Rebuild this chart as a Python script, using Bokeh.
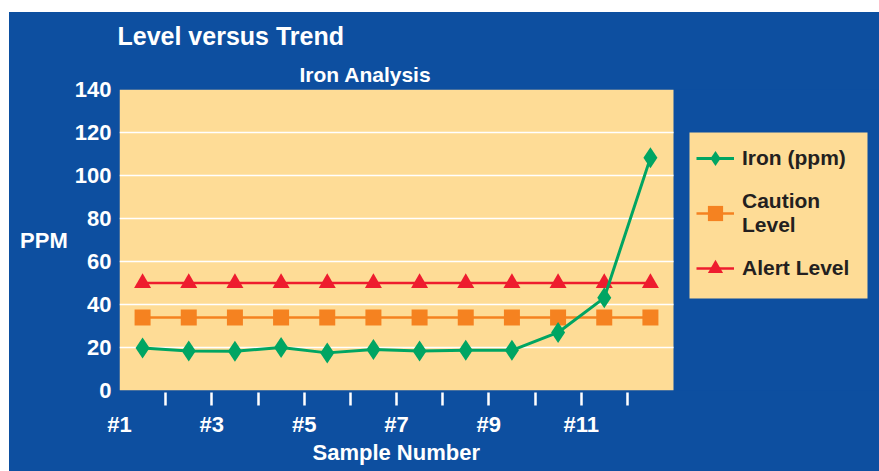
import numpy as np
from bokeh.plotting import figure
from bokeh.models import (FixedTicker, Legend, LegendItem, Title, Range1d,
                          BoxAnnotation)
from bokeh.embed import file_html
from bokeh.resources import INLINE

# ---- data ----
samples = [1, 2, 3, 4, 5, 6, 7, 8, 9, 10, 11, 12]
iron = [19.8, 18.4, 18.3, 20.0, 17.5, 19.1, 18.4, 18.7, 18.7, 27.0, 43.1, 108.2]
caution = [34, 34, 34, 34, 34, 34, 34, 34, 34, 34, 34, 34]
alert = [50, 50, 50, 50, 50, 50, 50, 50, 50, 50, 50, 50]
x_tick_labels = ["#1", "#3", "#5", "#7", "#9", "#11"]
y_ticks = [0, 20, 40, 60, 80, 100, 120, 140]

BLUE = "#0D4FA0"
PANEL = "#FEDC96"
GREEN = "#00A563"
ORANGE = "#F58220"
RED = "#EE1C2E"
FONT = "Liberation Sans"

n = len(samples)
xs = np.array(samples) - 0.5

# layout (pixels)
W, H = 870, 459
LEFT, TOP, BOTTOM = 110, 77, 81
CHART_W = 554                      # pixel width of the yellow chart area
frame_w = W - LEFT
frame_h = H - TOP - BOTTOM
x_end = n * frame_w / CHART_W      # frame extends to the right to hold the legend
px_x = n / CHART_W                 # data units per pixel
px_y = (y_ticks[-1] - y_ticks[0]) / frame_h

# legend panel (pixels from frame left / frame bottom)
LEG_L, LEG_R, LEG_B, LEG_T = 570, 748, 92, 258

p = figure(width=W, height=H, output_backend="svg", toolbar_location=None,
           title=None, x_range=Range1d(0, x_end), y_range=Range1d(y_ticks[0], y_ticks[-1]),
           min_border_left=LEFT, min_border_right=0, min_border_top=TOP,
           min_border_bottom=BOTTOM, margin=(12, 0, 0, 9))
p.background_fill_color = BLUE
p.border_fill_color = BLUE
p.outline_line_color = None
p.styles = {"background-color": BLUE}

# yellow chart area
p.add_layout(BoxAnnotation(left=0, right=n, bottom=y_ticks[0], top=y_ticks[-1],
                           fill_color=PANEL, fill_alpha=1, line_color=None,
                           level="underlay"))
# yellow legend panel
p.add_layout(BoxAnnotation(left=LEG_L * px_x, right=LEG_R * px_x,
                           bottom=LEG_B * px_y, top=LEG_T * px_y,
                           fill_color=PANEL, fill_alpha=1, line_color=None,
                           level="underlay"))

# axes
label_ticks = [2 * i for i in range(len(x_tick_labels))]
p.xaxis.ticker = FixedTicker(ticks=label_ticks, minor_ticks=samples[:-1])
p.xaxis.major_label_overrides = {t: lab for t, lab in zip(label_ticks, x_tick_labels)}
p.xaxis.axis_line_color = None
p.xaxis.major_tick_line_color = None
p.xaxis.major_tick_in = 0
p.xaxis.major_tick_out = 0
p.xaxis.minor_tick_line_color = "white"
p.xaxis.minor_tick_line_width = 2.5
p.xaxis.minor_tick_in = -2
p.xaxis.minor_tick_out = 15
p.xaxis.major_label_standoff = 6

p.yaxis.ticker = FixedTicker(ticks=y_ticks)
p.yaxis.axis_line_color = None
p.yaxis.major_tick_line_color = None
p.yaxis.minor_tick_line_color = None
p.yaxis.major_tick_in = 0
p.yaxis.major_tick_out = 0
p.yaxis.major_label_standoff = 8
p.yaxis.axis_label = "PPM"
p.yaxis.axis_label_orientation = "horizontal"
p.yaxis.axis_label_standoff = 4

for ax in (p.xaxis[0], p.yaxis[0]):
    ax.major_label_text_font = FONT
    ax.major_label_text_font_style = "bold"
    ax.major_label_text_font_size = "22px"
    ax.major_label_text_color = "white"
    ax.axis_label_text_font = FONT
    ax.axis_label_text_font_style = "bold"
    ax.axis_label_text_font_size = "22px"
    ax.axis_label_text_color = "white"

# x axis title, centred under the chart area (not the whole frame)
p.add_layout(Title(text="Sample Number", align="left", offset=193,
                   text_font=FONT, text_font_style="bold", text_font_size="22px",
                   text_color="white", standoff=-4), "below")

p.xgrid.visible = False
p.ygrid.visible = False
grid_y = y_ticks[1:-1]
p.segment(x0=[0] * len(grid_y), x1=[n] * len(grid_y), y0=grid_y, y1=grid_y,
          line_color="white", line_width=1.5)

# titles
p.add_layout(Title(text="Iron Analysis", align="left", offset=180,
                   text_font=FONT, text_font_style="bold", text_font_size="21px",
                   text_color="white", standoff=8), "above")
p.add_layout(Title(text="Level versus Trend", align="left", offset=-2,
                   text_font=FONT, text_font_style="bold", text_font_size="25px",
                   text_color="white", standoff=13), "above")

# series
l_alert = p.line(xs, alert, line_color=RED, line_width=2.5)
m_alert = p.scatter(xs, alert, marker="triangle", size=17, fill_color=RED, line_color=None)
l_caut = p.line(xs, caution, line_color=ORANGE, line_width=2.5)
m_caut = p.scatter(xs, caution, marker="square", size=16, fill_color=ORANGE, line_color=None)
l_iron = p.line(xs, iron, line_color=GREEN, line_width=3)
m_iron = p.scatter(xs, iron, marker="diamond", size=21, fill_color=GREEN, line_color=None)

legend = Legend(items=[
    LegendItem(label="Iron (ppm)", renderers=[l_iron, m_iron]),
    LegendItem(label="Caution\nLevel", renderers=[l_caut, m_caut]),
    LegendItem(label="Alert Level", renderers=[l_alert, m_alert]),
], location=(577, 101))
legend.background_fill_alpha = 0
legend.border_line_color = None
legend.label_text_font = FONT
legend.label_text_font_style = "bold"
legend.label_text_font_size = "21px"
legend.label_text_color = "#231F20"
legend.glyph_width = 38
legend.glyph_height = 42
legend.label_standoff = 8
legend.spacing = 10
legend.padding = 13
legend.margin = 0
p.add_layout(legend)

open("out.html", "w").write(file_html(p, INLINE))
